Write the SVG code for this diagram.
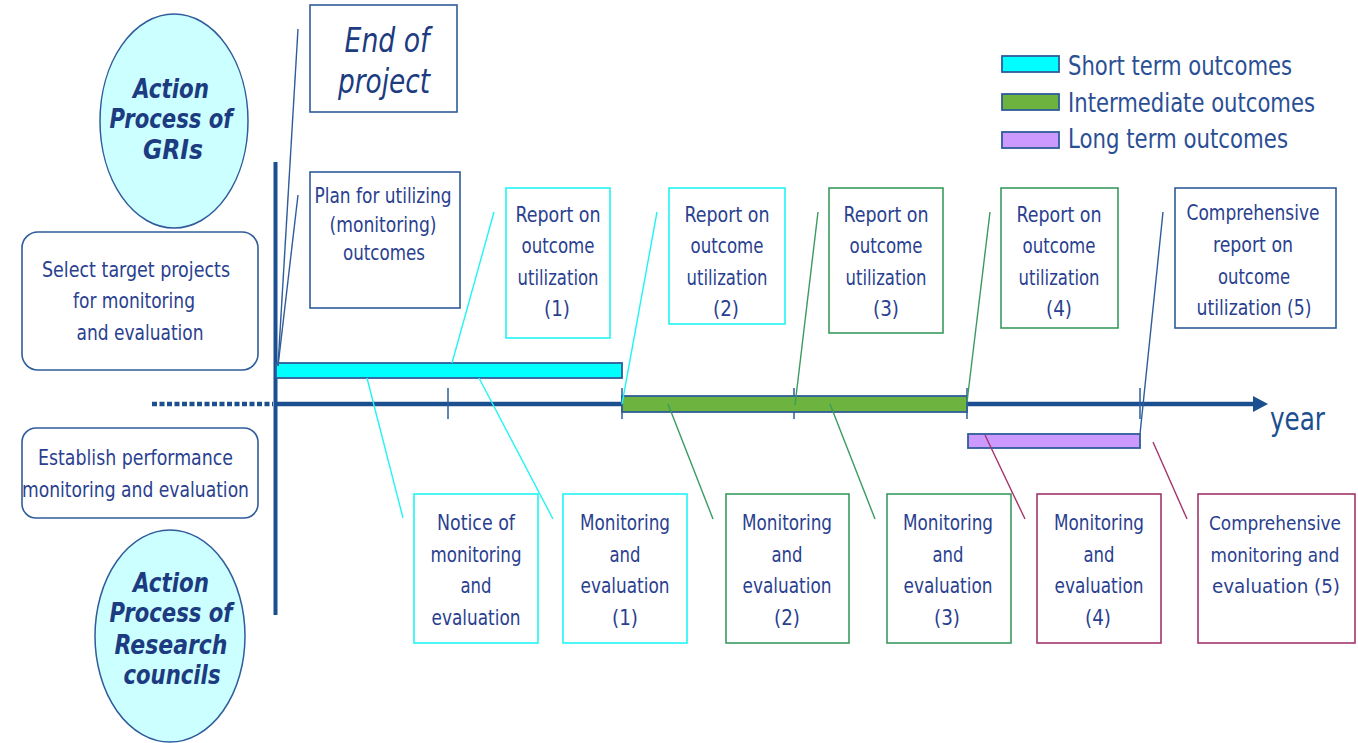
<svg xmlns="http://www.w3.org/2000/svg" width="1358" height="743" viewBox="0 0 1358 743">
  <style>
    .t { font-family: "DejaVu Sans Condensed", "DejaVu Sans", sans-serif; font-size: 22px; fill: #2a3f8f; text-anchor: middle; }
    .t.sm { font-size: 20px; }
    .lg { font-family: "DejaVu Sans Condensed", "DejaVu Sans", sans-serif; font-size: 27px; fill: #2a4f94; }
    .big { font-family: "DejaVu Sans Condensed", "DejaVu Sans", sans-serif; font-size: 26px; font-weight: bold; font-style: italic; fill: #1c3b80; text-anchor: middle; }
    .eop { font-family: "DejaVu Sans Condensed", "DejaVu Sans", sans-serif; font-size: 34px; font-style: italic; fill: #1c3b80; text-anchor: middle; }
    .box { fill: #ffffff; stroke-width: 1.6; }
    .blue { stroke: #2f5c9a; }
    .cyan { stroke: #22f4f4; }
    .green { stroke: #3a9a60; }
    .maroon { stroke: #a3346c; }
    .oval { fill: #ccffff; stroke: #2f5c9a; stroke-width: 1.5; }
    .bar { stroke: #2f5c9a; stroke-width: 1.8; }
    .axis { stroke: #1c4f8f; fill: none; }
    .tick { stroke: #2f5c9a; stroke-width: 1.5; }
    .conn line { stroke-width: 1.4; }
  </style>

  <!-- time axes -->
  <g id="axes">
    <line class="axis" x1="152" y1="404" x2="273" y2="404" stroke-width="4.5" stroke-dasharray="5 2.5"/>
    <line class="axis" x1="275.5" y1="162" x2="275.5" y2="615" stroke-width="4"/>
    <line class="axis" x1="275" y1="404" x2="1255" y2="404" stroke-width="4.5"/>
    <polygon points="1253,396 1268,404 1253,412" fill="#1c4f8f"/>
    <line class="tick" x1="448" y1="388" x2="448" y2="419"/>
    <line class="tick" x1="622" y1="388" x2="622" y2="419"/>
    <line class="tick" x1="794" y1="388" x2="794" y2="419"/>
    <line class="tick" x1="967" y1="388" x2="967" y2="419"/>
    <line class="tick" x1="1140" y1="388" x2="1140" y2="419"/>
    <text x="1270" y="430" font-family="DejaVu Sans Condensed, DejaVu Sans, sans-serif" font-size="32" fill="#1c4f8f" textLength="55" lengthAdjust="spacingAndGlyphs">year</text>
  </g>

  <!-- outcome bars -->
  <g id="bars">
    <rect class="bar" x="276" y="363" width="346" height="15" fill="#00ffff"/>
    <rect class="bar" x="622" y="396" width="345" height="16" fill="#6cb33f"/>
    <rect class="bar" x="968" y="434" width="172" height="14" fill="#cc99ff"/>
  </g>

  <!-- legend -->
  <g id="legend">
    <rect class="bar" x="1002" y="56" width="57" height="16" fill="#00ffff"/>
    <rect class="bar" x="1002" y="94" width="57" height="16" fill="#6cb33f"/>
    <rect class="bar" x="1002" y="132" width="57" height="16" fill="#cc99ff"/>
    <text class="lg" x="1068" y="75" textLength="224" lengthAdjust="spacingAndGlyphs">Short term outcomes</text>
    <text class="lg" x="1068" y="112" textLength="247" lengthAdjust="spacingAndGlyphs">Intermediate outcomes</text>
    <text class="lg" x="1068" y="148" textLength="220" lengthAdjust="spacingAndGlyphs">Long term  outcomes</text>
  </g>

  <!-- connectors -->
  <g id="connectors" class="conn">
    <line class="blue" x1="298" y1="29" x2="278" y2="366"/>
    <line class="blue" x1="298" y1="195" x2="278" y2="366"/>
    <line class="cyan" x1="494" y1="212" x2="452" y2="363"/>
    <line class="cyan" x1="657" y1="212" x2="622" y2="404"/>
    <line class="green" x1="818" y1="212" x2="795" y2="405"/>
    <line class="green" x1="990" y1="212" x2="967" y2="402"/>
    <line class="blue" x1="1163" y1="212" x2="1140" y2="434"/>
    <line class="cyan" x1="367" y1="378" x2="403" y2="518"/>
    <line class="cyan" x1="479" y1="378" x2="553" y2="519"/>
    <line class="green" x1="668" y1="404" x2="713" y2="519"/>
    <line class="green" x1="830" y1="404" x2="875" y2="519"/>
    <line class="maroon" x1="985" y1="435" x2="1025" y2="519"/>
    <line class="maroon" x1="1153" y1="442" x2="1187" y2="519"/>
  </g>

  <!-- actors -->
  <g id="gri-oval">
    <ellipse class="oval" cx="174" cy="121" rx="74" ry="107"/>
    <text class="big" x="171" y="98" textLength="76" lengthAdjust="spacingAndGlyphs">Action</text>
    <text class="big" x="171" y="128" textLength="123" lengthAdjust="spacingAndGlyphs">Process of</text>
    <text class="big" x="173" y="159" textLength="60" lengthAdjust="spacingAndGlyphs">GRIs</text>
  </g>
  <g id="council-oval">
    <ellipse class="oval" cx="170" cy="636" rx="75" ry="106"/>
    <text class="big" x="171" y="592" textLength="76" lengthAdjust="spacingAndGlyphs">Action</text>
    <text class="big" x="171" y="622" textLength="123" lengthAdjust="spacingAndGlyphs">Process of</text>
    <text class="big" x="171" y="654" textLength="113" lengthAdjust="spacingAndGlyphs">Research</text>
    <text class="big" x="172" y="684" textLength="97" lengthAdjust="spacingAndGlyphs">councils</text>
  </g>

  <g id="select-targets">
    <rect class="box blue" x="22" y="232" width="236" height="138" rx="16"/>
    <text class="t" x="136" y="277" textLength="188" lengthAdjust="spacingAndGlyphs">Select target  projects</text>
    <text class="t" x="134" y="308" textLength="122" lengthAdjust="spacingAndGlyphs">for monitoring</text>
    <text class="t" x="140" y="340" textLength="127" lengthAdjust="spacingAndGlyphs">and evaluation</text>
  </g>
  <g id="establish-monitoring">
    <rect class="box blue" x="22" y="428" width="236" height="90" rx="14"/>
    <text class="t" x="135.5" y="465" textLength="195" lengthAdjust="spacingAndGlyphs">Establish  performance</text>
    <text class="t" x="135.5" y="497" textLength="227" lengthAdjust="spacingAndGlyphs">monitoring  and  evaluation</text>
  </g>

  <!-- top row: GRI reports -->
  <g id="end-of-project">
    <rect class="box blue" x="310" y="5" width="147" height="107"/>
    <text class="eop" x="387" y="52" textLength="85" lengthAdjust="spacingAndGlyphs">End of</text>
    <text class="eop" x="384" y="93" textLength="92" lengthAdjust="spacingAndGlyphs">project</text>
  </g>
  <g id="plan">
    <rect class="box blue" x="310" y="172" width="150" height="136"/>
    <text class="t" x="383" y="203" textLength="137" lengthAdjust="spacingAndGlyphs">Plan for utilizing</text>
    <text class="t" x="383" y="232" textLength="107" lengthAdjust="spacingAndGlyphs">(monitoring)</text>
    <text class="t" x="384" y="260" textLength="82" lengthAdjust="spacingAndGlyphs">outcomes</text>
  </g>
  <g id="report-1">
    <rect class="box cyan" x="506" y="188" width="104" height="150"/>
    <text class="t" x="558" y="222" textLength="85" lengthAdjust="spacingAndGlyphs">Report on</text>
    <text class="t" x="558" y="253" textLength="73" lengthAdjust="spacingAndGlyphs">outcome</text>
    <text class="t" x="558" y="285" textLength="81" lengthAdjust="spacingAndGlyphs">utilization</text>
    <text class="t" x="557" y="316" textLength="26" lengthAdjust="spacingAndGlyphs">(1)</text>
  </g>
  <g id="report-2">
    <rect class="box cyan" x="669" y="188" width="116" height="136"/>
    <text class="t" x="727" y="222" textLength="85" lengthAdjust="spacingAndGlyphs">Report on</text>
    <text class="t" x="727" y="253" textLength="73" lengthAdjust="spacingAndGlyphs">outcome</text>
    <text class="t" x="727" y="285" textLength="81" lengthAdjust="spacingAndGlyphs">utilization</text>
    <text class="t" x="726" y="316" textLength="26" lengthAdjust="spacingAndGlyphs">(2)</text>
  </g>
  <g id="report-3">
    <rect class="box green" x="829" y="188" width="114" height="145"/>
    <text class="t" x="886" y="222" textLength="85" lengthAdjust="spacingAndGlyphs">Report on</text>
    <text class="t" x="886" y="253" textLength="73" lengthAdjust="spacingAndGlyphs">outcome</text>
    <text class="t" x="886" y="285" textLength="81" lengthAdjust="spacingAndGlyphs">utilization</text>
    <text class="t" x="886" y="316" textLength="26" lengthAdjust="spacingAndGlyphs">(3)</text>
  </g>
  <g id="report-4">
    <rect class="box green" x="1001" y="188" width="117" height="140"/>
    <text class="t" x="1059" y="222" textLength="85" lengthAdjust="spacingAndGlyphs">Report on</text>
    <text class="t" x="1059" y="253" textLength="73" lengthAdjust="spacingAndGlyphs">outcome</text>
    <text class="t" x="1059" y="285" textLength="81" lengthAdjust="spacingAndGlyphs">utilization</text>
    <text class="t" x="1059" y="316" textLength="26" lengthAdjust="spacingAndGlyphs">(4)</text>
  </g>
  <g id="report-5">
    <rect class="box blue" x="1175" y="188" width="161" height="140"/>
    <text class="t" x="1253" y="220" textLength="133" lengthAdjust="spacingAndGlyphs">Comprehensive</text>
    <text class="t" x="1253" y="252" textLength="80" lengthAdjust="spacingAndGlyphs">report on</text>
    <text class="t" x="1254" y="284" textLength="72" lengthAdjust="spacingAndGlyphs">outcome</text>
    <text class="t" x="1254" y="315" textLength="115" lengthAdjust="spacingAndGlyphs">utilization (5)</text>
  </g>

  <!-- bottom row: council monitoring -->
  <g id="notice">
    <rect class="box cyan" x="414" y="494" width="124" height="149"/>
    <text class="t" x="476" y="530" textLength="78" lengthAdjust="spacingAndGlyphs">Notice of</text>
    <text class="t" x="476" y="562" textLength="91" lengthAdjust="spacingAndGlyphs">monitoring</text>
    <text class="t" x="476" y="593" textLength="31" lengthAdjust="spacingAndGlyphs">and</text>
    <text class="t" x="476" y="625" textLength="89" lengthAdjust="spacingAndGlyphs">evaluation</text>
  </g>
  <g id="monitoring-1">
    <rect class="box cyan" x="563" y="494" width="124" height="149"/>
    <text class="t" x="625" y="530" textLength="90" lengthAdjust="spacingAndGlyphs">Monitoring</text>
    <text class="t" x="625" y="562" textLength="31" lengthAdjust="spacingAndGlyphs">and</text>
    <text class="t" x="625" y="593" textLength="89" lengthAdjust="spacingAndGlyphs">evaluation</text>
    <text class="t" x="625" y="625" textLength="26" lengthAdjust="spacingAndGlyphs">(1)</text>
  </g>
  <g id="monitoring-2">
    <rect class="box green" x="726" y="494" width="123" height="149"/>
    <text class="t" x="787" y="530" textLength="90" lengthAdjust="spacingAndGlyphs">Monitoring</text>
    <text class="t" x="787" y="562" textLength="31" lengthAdjust="spacingAndGlyphs">and</text>
    <text class="t" x="787" y="593" textLength="89" lengthAdjust="spacingAndGlyphs">evaluation</text>
    <text class="t" x="787" y="625" textLength="26" lengthAdjust="spacingAndGlyphs">(2)</text>
  </g>
  <g id="monitoring-3">
    <rect class="box green" x="887" y="494" width="124" height="149"/>
    <text class="t" x="948" y="530" textLength="90" lengthAdjust="spacingAndGlyphs">Monitoring</text>
    <text class="t" x="948" y="562" textLength="31" lengthAdjust="spacingAndGlyphs">and</text>
    <text class="t" x="948" y="593" textLength="89" lengthAdjust="spacingAndGlyphs">evaluation</text>
    <text class="t" x="947" y="625" textLength="26" lengthAdjust="spacingAndGlyphs">(3)</text>
  </g>
  <g id="monitoring-4">
    <rect class="box maroon" x="1037" y="494" width="124" height="149"/>
    <text class="t" x="1099" y="530" textLength="90" lengthAdjust="spacingAndGlyphs">Monitoring</text>
    <text class="t" x="1099" y="562" textLength="31" lengthAdjust="spacingAndGlyphs">and</text>
    <text class="t" x="1099" y="593" textLength="89" lengthAdjust="spacingAndGlyphs">evaluation</text>
    <text class="t" x="1098" y="625" textLength="26" lengthAdjust="spacingAndGlyphs">(4)</text>
  </g>
  <g id="monitoring-5">
    <rect class="box maroon" x="1198" y="494" width="157" height="149"/>
    <text class="t sm" x="1275" y="530" textLength="132" lengthAdjust="spacingAndGlyphs">Comprehensive</text>
    <text class="t sm" x="1275" y="562" textLength="129" lengthAdjust="spacingAndGlyphs">monitoring and</text>
    <text class="t sm" x="1276" y="593" textLength="128" lengthAdjust="spacingAndGlyphs">evaluation  (5)</text>
  </g>
</svg>
